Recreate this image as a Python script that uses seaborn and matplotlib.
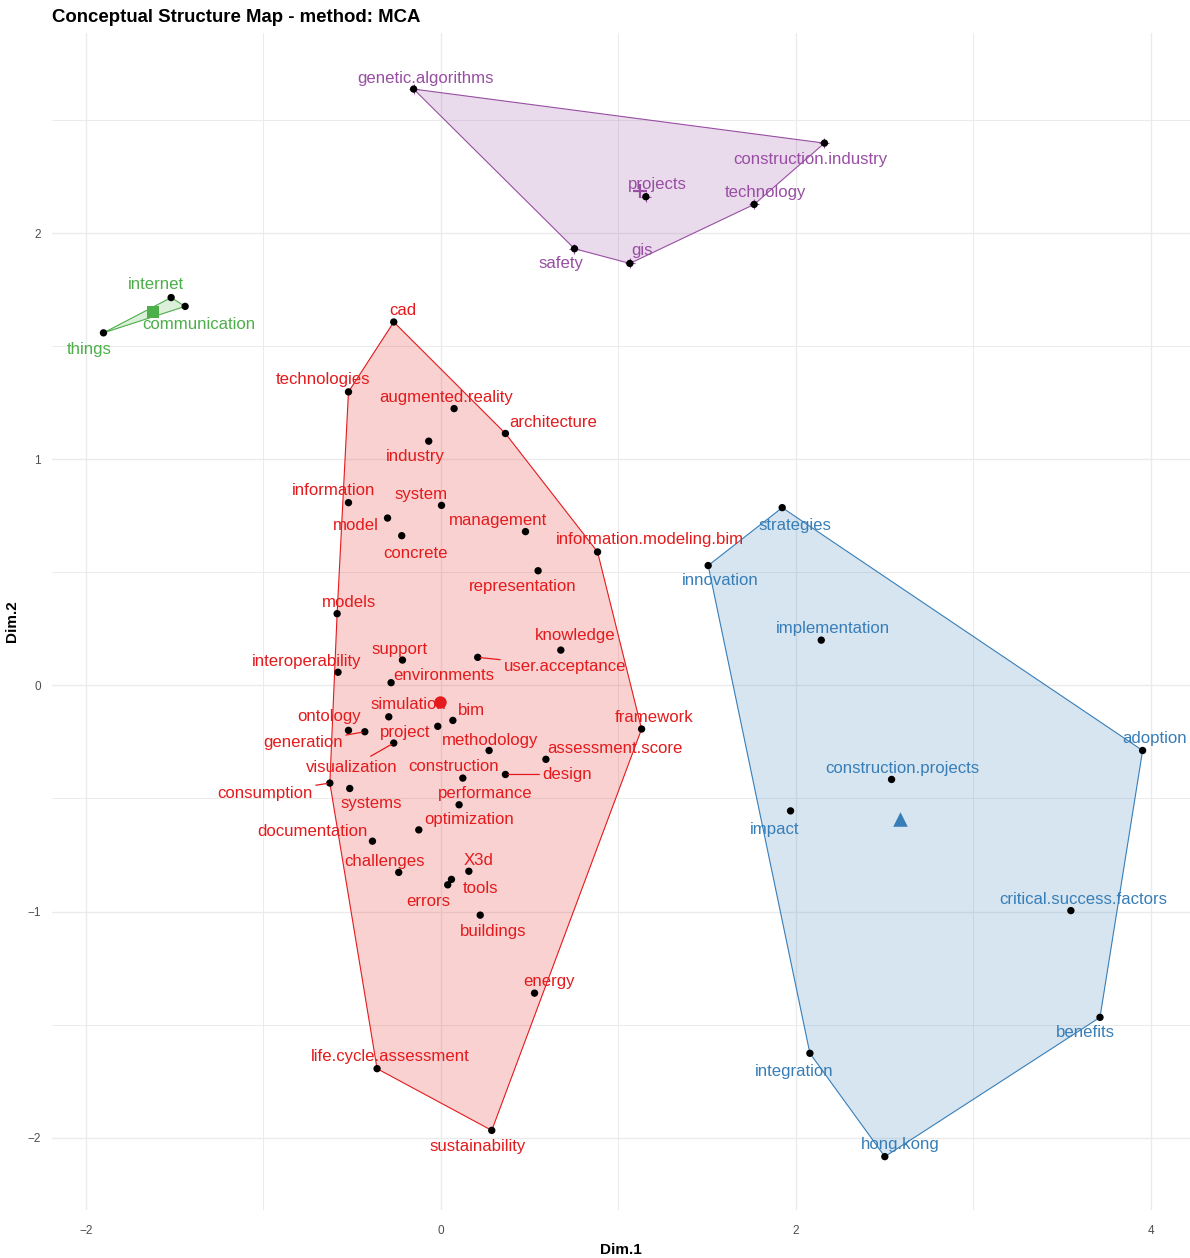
import numpy as np
import pandas as pd
import matplotlib
matplotlib.use("Agg")
import matplotlib.pyplot as plt
import seaborn as sns

# ---- data: word coordinates on Dim.1 / Dim.2 per cluster
red_words = ["cad", "technologies", "augmented.reality", "architecture", "industry",
             "information", "system", "model", "concrete", "management",
             "information.modeling.bim", "representation", "models", "knowledge",
             "support", "user.acceptance", "interoperability", "environments",
             "simulation", "bim", "project", "ontology", "generation", "visualization",
             "methodology", "assessment.score", "framework", "design", "construction",
             "consumption", "systems", "performance", "optimization", "documentation",
             "challenges", "X3d", "tools", "errors", "buildings", "energy",
             "life.cycle.assessment", "sustainability"]
red_x = [-0.265, -0.52, 0.075, 0.364, -0.068, -0.52, 0.004, -0.30, -0.22, 0.477,
         0.883, 0.548, -0.584, 0.676, -0.216, 0.208, -0.579, -0.28, -0.293, 0.068,
         -0.017, -0.52, -0.428, -0.265, 0.272, 0.592, 1.131, 0.364, 0.124, -0.625,
         -0.513, 0.103, -0.124, -0.385, -0.237, 0.158, 0.060, 0.039, 0.222, 0.528,
         -0.359, 0.287]
red_y = [1.607, 1.298, 1.224, 1.114, 1.080, 0.808, 0.796, 0.740, 0.662, 0.680,
         0.590, 0.507, 0.317, 0.156, 0.112, 0.124, 0.058, 0.012, -0.139, -0.155,
         -0.181, -0.199, -0.205, -0.255, -0.288, -0.327, -0.193, -0.394, -0.410, -0.432,
         -0.456, -0.528, -0.639, -0.689, -0.827, -0.822, -0.858, -0.882, -1.016, -1.361,
         -1.695, -1.968]

blue_words = ["strategies", "innovation", "implementation", "adoption",
              "construction.projects", "impact", "critical.success.factors",
              "benefits", "integration", "hong.kong"]
blue_x = [1.923, 1.506, 2.143, 3.953, 2.539, 1.970, 3.549, 3.713, 2.079, 2.501]
blue_y = [0.786, 0.530, 0.200, -0.288, -0.416, -0.555, -0.996, -1.468, -1.627, -2.084]

green_words = ["internet", "communication", "things"]
green_x = [-1.519, -1.440, -1.900]
green_y = [1.715, 1.676, 1.559]

purple_words = ["genetic.algorithms", "construction.industry", "projects",
                "technology", "safety", "gis"]
purple_x = [-0.153, 2.161, 1.155, 1.765, 0.753, 1.065]
purple_y = [2.637, 2.398, 2.161, 2.127, 1.931, 1.866]

# ---- label placement (offset in pixels from the point) and which get a segment
label_off = {
    "cad": (9, 11), "technologies": (-25, 12), "augmented.reality": (-8, 11),
    "architecture": (48, 11), "industry": (-13, -15), "information": (-15, 12),
    "system": (-20, 11), "model": (-32, -7), "concrete": (14, -18),
    "management": (-27, 11), "information.modeling.bim": (52, 12),
    "representation": (-15, -16), "models": (12, 11), "knowledge": (14, 15),
    "support": (-3, 11), "user.acceptance": (87, -9), "interoperability": (-31, 11),
    "environments": (53, 7), "simulation": (20, 12), "bim": (19, 10),
    "project": (-33, -6), "ontology": (-19, 14), "generation": (-62, -11),
    "visualization": (-42, -24), "methodology": (1, 10), "assessment.score": (69, 11),
    "framework": (13, 12), "design": (62, 0), "construction": (-9, 12),
    "consumption": (-65, -10), "systems": (21, -15), "performance": (26, 11),
    "optimization": (50, 10), "documentation": (-60, 10), "challenges": (-14, 11),
    "X3d": (10, 11), "tools": (29, -9), "errors": (-19, -17), "buildings": (13, -16),
    "energy": (14, 12), "life.cycle.assessment": (13, 12), "sustainability": (-14, -16),
    "internet": (-15, 13), "communication": (14, -18), "things": (-14, -17),
    "genetic.algorithms": (12, 11), "construction.industry": (-14, -16),
    "projects": (12, 12), "technology": (11, 12), "safety": (-14, -15), "gis": (12, 13),
    "strategies": (13, -18), "innovation": (12, -15), "implementation": (12, 12),
    "adoption": (12, 12), "construction.projects": (11, 11), "impact": (-16, -19),
    "critical.success.factors": (12, 11), "benefits": (-15, -15),
    "integration": (-16, -18), "hong.kong": (15, 12),
}
with_segment = {"user.acceptance", "generation", "visualization", "design", "consumption"}

clusters = [
    ("1", red_words, red_x, red_y, "#E41A1C", "o", 80),
    ("2", blue_words, blue_x, blue_y, "#377EB8", "^", 110),
    ("3", green_words, green_x, green_y, "#4DAF4A", "s", 70),
    ("4", purple_words, purple_x, purple_y, "#984EA3", "+", 90),
]

rows = []
for cl, w, x, y, *_ in clusters:
    for a, b, c in zip(w, x, y):
        rows.append({"word": a, "Dim.1": b, "Dim.2": c, "cluster": cl})
df = pd.DataFrame(rows)


def convex_hull(pts):
    pts = sorted(set(pts))
    if len(pts) < 3:
        return pts

    def cross(o, a, b):
        return (a[0] - o[0]) * (b[1] - o[1]) - (a[1] - o[1]) * (b[0] - o[0])

    lower, upper = [], []
    for p in pts:
        while len(lower) >= 2 and cross(lower[-2], lower[-1], p) <= 0:
            lower.pop()
        lower.append(p)
    for p in reversed(pts):
        while len(upper) >= 2 and cross(upper[-2], upper[-1], p) <= 0:
            upper.pop()
        upper.append(p)
    return lower[:-1] + upper[:-1]


sns.set_theme(style="whitegrid")
plt.rcParams["font.family"] = ["Liberation Sans", "DejaVu Sans"]

W, H = 1190, 1258
fig = plt.figure(figsize=(W / 100, H / 100), dpi=100)
left, right, top, bottom = 52, 1190, 33, 1210
ax = fig.add_axes([left / W, 1 - bottom / H, (right - left) / W, (bottom - top) / H])
ax.set_facecolor("white")

for cl, w, x, y, col, mk, ms in clusters:
    hull = convex_hull(list(zip(x, y)))
    hx = [p[0] for p in hull]
    hy = [p[1] for p in hull]
    ax.fill(hx, hy, facecolor=col, alpha=0.2, edgecolor="none", zorder=1)
    ax.fill(hx, hy, facecolor="none", edgecolor=col, lw=0.8, zorder=2)

# purple cluster uses a plus shape under the black dots
sub = df[df["cluster"] == "4"]
ax.scatter(sub["Dim.1"], sub["Dim.2"], marker="+", s=50, color="#984EA3", lw=0.8, zorder=3)

sns.scatterplot(data=df, x="Dim.1", y="Dim.2", color="black", s=28, edgecolor="none",
                ax=ax, zorder=4, legend=False)

# cluster centroids
for cl, w, x, y, col, mk, ms in clusters:
    lw = 1.6 if mk == "+" else 0
    ax.scatter([np.mean(x)], [np.mean(y)], marker=mk, s=ms, color=col, lw=lw, zorder=5)

for cl, w, x, y, col, mk, ms in clusters:
    for a, b, c in zip(w, x, y):
        dx, dy = label_off[a]
        kw = {}
        if a in with_segment:
            kw["arrowprops"] = dict(arrowstyle="-", color=col, lw=0.9,
                                    shrinkA=0, shrinkB=2)
        ax.annotate(a, (b, c), xytext=(dx, dy), textcoords="offset pixels",
                    ha="center", va="center", color=col, fontsize=12.1, zorder=6, **kw)

ax.set_xlim(-2.19, 4.22)
ax.set_ylim(-2.32, 2.885)
ax.set_xticks([-2, 0, 2, 4])
ax.set_yticks([-2, -1, 0, 1, 2])
ax.set_xticks([-1, 1, 3], minor=True)
ax.set_yticks([-1.5, -0.5, 0.5, 1.5, 2.5], minor=True)
ax.grid(True, which="major", color="#EBEBEB", lw=1.0)
ax.grid(True, which="minor", color="#EBEBEB", lw=0.7)
ax.tick_params(axis="both", which="both", length=0, labelsize=8.5, labelcolor="#4D4D4D")
ax.tick_params(axis="x", pad=11)
ax.tick_params(axis="y", pad=8)
for s in ax.spines.values():
    s.set_visible(False)

ax.set_xlabel("Dim.1", fontsize=11, fontweight="bold", labelpad=4, color="black")
ax.set_ylabel("Dim.2", fontsize=11, fontweight="bold", labelpad=6, color="black")

fig.text(52 / W, 1 - 17 / H, "Conceptual Structure Map - method: MCA",
         fontsize=13.4, fontweight="bold", ha="left", va="center", color="black")

fig.savefig("out.png", dpi=100)
